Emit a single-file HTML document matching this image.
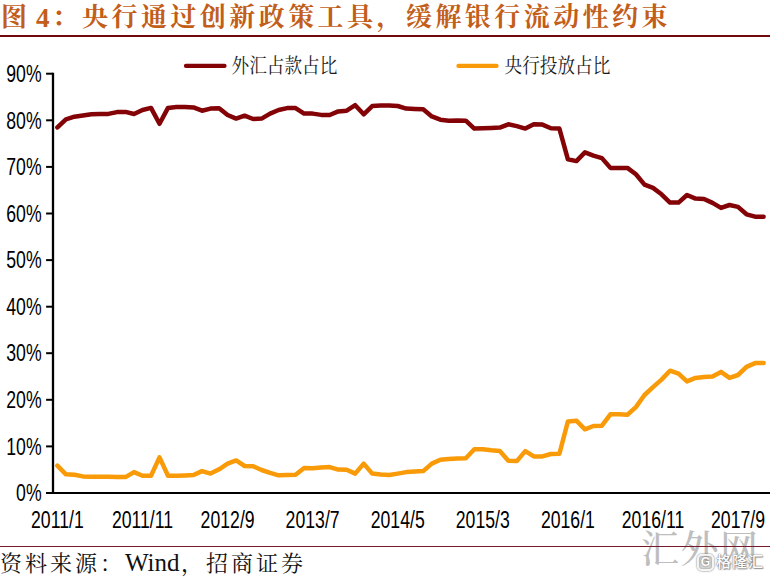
<!DOCTYPE html>
<html lang="zh-CN">
<head>
<meta charset="utf-8">
<title>图 4：央行通过创新政策工具，缓解银行流动性约束</title>
<style>
html,body{margin:0;padding:0;background:#fff;}
body{width:770px;height:578px;position:relative;overflow:hidden;font-family:"Liberation Serif","Noto Serif CJK SC",serif;}
.title{position:absolute;top:-2.5px;height:40px;line-height:40px;white-space:nowrap;font-size:26px;font-weight:700;color:#c25e1a;letter-spacing:3.45px;}
.t1{left:1px;}.t2{left:36px;letter-spacing:0;font-size:27px;font-weight:bold;}.t3{left:52px;}.t4{left:82px;}
.rule1{position:absolute;left:0;top:35px;width:770px;height:2px;background:#6e0a0a;}
.rule2{position:absolute;left:0;top:546px;width:770px;height:1px;background:#751a29;}
.src{position:absolute;left:0;top:547px;height:32px;line-height:32px;white-space:nowrap;font-size:22px;color:#111;letter-spacing:3px;}
.src .w{letter-spacing:0;font-size:25px;}
.wm{position:absolute;left:641px;top:523px;font-size:38px;line-height:52px;color:#bebebe;white-space:nowrap;letter-spacing:1.5px;font-weight:500;}
.wm2{position:absolute;left:716px;top:552px;font-size:15px;opacity:.92;line-height:20px;letter-spacing:1px;color:#fff;white-space:nowrap;font-family:"Liberation Sans","Noto Sans CJK SC",sans-serif;font-weight:500;text-shadow:0 0 2px #777,0 0 1px #666,1px 1px 1px #999;}
.wmg{position:absolute;left:697px;top:554px;width:13px;height:13px;border:2px solid #f4f4f4;border-radius:5px;box-shadow:0 0 2px #555, inset 0 0 2px #777;background:rgba(190,190,190,.55);color:#fff;font:bold 12px/13px "Liberation Sans",sans-serif;text-align:center;text-shadow:0 0 2px #555;}
svg{position:absolute;left:0;top:0;}
</style>
</head>
<body>
<div class="title t1">图</div><div class="title t2">4</div><div class="title t3">：</div><div class="title t4">央行通过创新政策工具，缓解银行流动性约束</div>
<div class="rule1"></div>
<svg width="770" height="578" viewBox="0 0 770 578">
<line x1="46.1" y1="73.7" x2="53" y2="73.7" stroke="#000" stroke-width="2"/>
<text transform="translate(41.6 81.9) scale(0.768 1)" text-anchor="end" font-family='"Liberation Sans", sans-serif' font-size="23" fill="#000" >90%</text>
<line x1="46.1" y1="120.3" x2="53" y2="120.3" stroke="#000" stroke-width="2"/>
<text transform="translate(41.6 128.5) scale(0.768 1)" text-anchor="end" font-family='"Liberation Sans", sans-serif' font-size="23" fill="#000" >80%</text>
<line x1="46.1" y1="166.9" x2="53" y2="166.9" stroke="#000" stroke-width="2"/>
<text transform="translate(41.6 175.1) scale(0.768 1)" text-anchor="end" font-family='"Liberation Sans", sans-serif' font-size="23" fill="#000" >70%</text>
<line x1="46.1" y1="213.5" x2="53" y2="213.5" stroke="#000" stroke-width="2"/>
<text transform="translate(41.6 221.7) scale(0.768 1)" text-anchor="end" font-family='"Liberation Sans", sans-serif' font-size="23" fill="#000" >60%</text>
<line x1="46.1" y1="260.1" x2="53" y2="260.1" stroke="#000" stroke-width="2"/>
<text transform="translate(41.6 268.3) scale(0.768 1)" text-anchor="end" font-family='"Liberation Sans", sans-serif' font-size="23" fill="#000" >50%</text>
<line x1="46.1" y1="306.7" x2="53" y2="306.7" stroke="#000" stroke-width="2"/>
<text transform="translate(41.6 314.9) scale(0.768 1)" text-anchor="end" font-family='"Liberation Sans", sans-serif' font-size="23" fill="#000" >40%</text>
<line x1="46.1" y1="353.2" x2="53" y2="353.2" stroke="#000" stroke-width="2"/>
<text transform="translate(41.6 361.4) scale(0.768 1)" text-anchor="end" font-family='"Liberation Sans", sans-serif' font-size="23" fill="#000" >30%</text>
<line x1="46.1" y1="399.8" x2="53" y2="399.8" stroke="#000" stroke-width="2"/>
<text transform="translate(41.6 408.0) scale(0.768 1)" text-anchor="end" font-family='"Liberation Sans", sans-serif' font-size="23" fill="#000" >20%</text>
<line x1="46.1" y1="446.4" x2="53" y2="446.4" stroke="#000" stroke-width="2"/>
<text transform="translate(41.6 454.6) scale(0.768 1)" text-anchor="end" font-family='"Liberation Sans", sans-serif' font-size="23" fill="#000" >10%</text>
<line x1="46.1" y1="493.0" x2="53" y2="493.0" stroke="#000" stroke-width="2"/>
<text transform="translate(41.6 501.2) scale(0.768 1)" text-anchor="end" font-family='"Liberation Sans", sans-serif' font-size="23" fill="#000" >0%</text>
<line x1="53" y1="72.7" x2="53" y2="494.1" stroke="#000" stroke-width="2.3"/>
<line x1="46.1" y1="493" x2="770" y2="493" stroke="#000" stroke-width="2.2"/>
<text transform="translate(57.4 528.0) scale(0.768 1)" text-anchor="middle" font-family='"Liberation Sans", sans-serif' font-size="23" fill="#000" >2011/1</text>
<text transform="translate(142.5 528.0) scale(0.768 1)" text-anchor="middle" font-family='"Liberation Sans", sans-serif' font-size="23" fill="#000" >2011/11</text>
<text transform="translate(227.6 528.0) scale(0.768 1)" text-anchor="middle" font-family='"Liberation Sans", sans-serif' font-size="23" fill="#000" >2012/9</text>
<text transform="translate(312.6 528.0) scale(0.768 1)" text-anchor="middle" font-family='"Liberation Sans", sans-serif' font-size="23" fill="#000" >2013/7</text>
<text transform="translate(397.7 528.0) scale(0.768 1)" text-anchor="middle" font-family='"Liberation Sans", sans-serif' font-size="23" fill="#000" >2014/5</text>
<text transform="translate(482.8 528.0) scale(0.768 1)" text-anchor="middle" font-family='"Liberation Sans", sans-serif' font-size="23" fill="#000" >2015/3</text>
<text transform="translate(567.9 528.0) scale(0.768 1)" text-anchor="middle" font-family='"Liberation Sans", sans-serif' font-size="23" fill="#000" >2016/1</text>
<text transform="translate(653.0 528.0) scale(0.768 1)" text-anchor="middle" font-family='"Liberation Sans", sans-serif' font-size="23" fill="#000" >2016/11</text>
<text transform="translate(738.0 528.0) scale(0.768 1)" text-anchor="middle" font-family='"Liberation Sans", sans-serif' font-size="23" fill="#000" >2017/9</text>
<polyline points="57.4,127.4 65.9,119.3 74.4,116.7 82.9,115.5 91.4,114.3 99.9,114.1 108.4,113.9 117.0,112.1 125.5,111.9 134.0,114.0 142.5,110.0 151.0,107.9 159.5,123.8 168.0,107.9 176.5,106.9 185.0,106.9 193.5,107.4 202.0,110.7 210.5,108.6 219.1,108.3 227.6,115.0 236.1,118.6 244.6,115.7 253.1,119.0 261.6,118.6 270.1,113.6 278.6,110.0 287.1,108.1 295.6,108.1 304.1,113.6 312.6,113.6 321.1,114.9 329.7,115.0 338.2,111.4 346.7,110.7 355.2,105.2 363.7,114.3 372.2,106.1 380.7,105.4 389.2,105.4 397.7,106.0 406.2,108.6 414.7,109.0 423.2,109.3 431.8,116.4 440.3,119.7 448.8,120.7 457.3,120.4 465.8,120.7 474.3,128.6 482.8,128.3 491.3,127.9 499.8,127.6 508.3,124.3 516.8,126.1 525.3,128.6 533.8,124.3 542.4,124.6 550.9,128.2 559.4,128.6 567.9,159.3 576.4,161.1 584.9,152.4 593.4,155.7 601.9,158.1 610.4,167.9 618.9,167.9 627.4,167.9 635.9,174.3 644.5,184.6 653.0,187.9 661.5,194.3 670.0,202.6 678.5,202.6 687.0,195.0 695.5,198.6 704.0,199.0 712.5,202.9 721.0,207.9 729.5,205.0 738.0,206.9 746.5,214.3 755.1,216.7 763.6,216.7" fill="none" stroke="#830306" stroke-width="4.5" stroke-linejoin="round" stroke-linecap="round"/>
<polyline points="57.4,465.7 65.9,474.3 74.4,474.8 82.9,476.4 91.4,476.7 99.9,476.7 108.4,476.7 117.0,476.9 125.5,477.1 134.0,472.1 142.5,475.7 151.0,475.7 159.5,457.4 168.0,475.7 176.5,475.7 185.0,475.4 193.5,475.0 202.0,471.1 210.5,473.6 219.1,469.3 227.6,463.6 236.1,460.4 244.6,466.0 253.1,466.2 261.6,470.0 270.1,472.9 278.6,475.3 287.1,475.0 295.6,474.7 304.1,467.9 312.6,468.3 321.1,467.5 329.7,467.1 338.2,469.6 346.7,469.7 355.2,473.6 363.7,463.6 372.2,473.6 380.7,474.6 389.2,475.0 397.7,473.6 406.2,472.1 414.7,471.4 423.2,471.1 431.8,463.6 440.3,459.7 448.8,458.9 457.3,458.4 465.8,458.3 474.3,449.3 482.8,449.3 491.3,450.3 499.8,451.1 508.3,460.7 516.8,461.1 525.3,451.1 533.8,456.4 542.4,456.4 550.9,454.0 559.4,453.8 567.9,421.4 576.4,420.7 584.9,429.3 593.4,426.0 601.9,425.7 610.4,414.3 618.9,414.3 627.4,414.7 635.9,407.1 644.5,395.0 653.0,387.1 661.5,379.6 670.0,370.7 678.5,373.6 687.0,381.4 695.5,377.9 704.0,376.9 712.5,376.4 721.0,371.9 729.5,377.9 738.0,375.0 746.5,366.9 755.1,363.1 763.6,363.1" fill="none" stroke="#f99a08" stroke-width="4.5" stroke-linejoin="round" stroke-linecap="round"/>
<line x1="186" y1="65.9" x2="224.5" y2="65.9" stroke="#830306" stroke-width="4.3" stroke-linecap="round"/>
<line x1="458.5" y1="65.9" x2="496.5" y2="65.9" stroke="#f99a08" stroke-width="4.3" stroke-linecap="round"/>
<text transform="translate(231.5 72.5) scale(0.861 1)" text-anchor="start" font-family='"Liberation Serif", "Noto Serif CJK SC", serif' font-size="20.5" fill="#1a1a1a" >外汇占款占比</text>
<text transform="translate(504.5 72.5) scale(0.861 1)" text-anchor="start" font-family='"Liberation Serif", "Noto Serif CJK SC", serif' font-size="20.5" fill="#1a1a1a" >央行投放占比</text>
</svg>
<div class="wm">汇外网</div>
<div class="rule2"></div>
<div class="src">资料来源：<span class="w">Wind</span><span style="margin-left:1.5px">，招商证券</span></div>
<div class="wmg">G</div>
<div class="wm2">格隆汇</div>
</body>
</html>
